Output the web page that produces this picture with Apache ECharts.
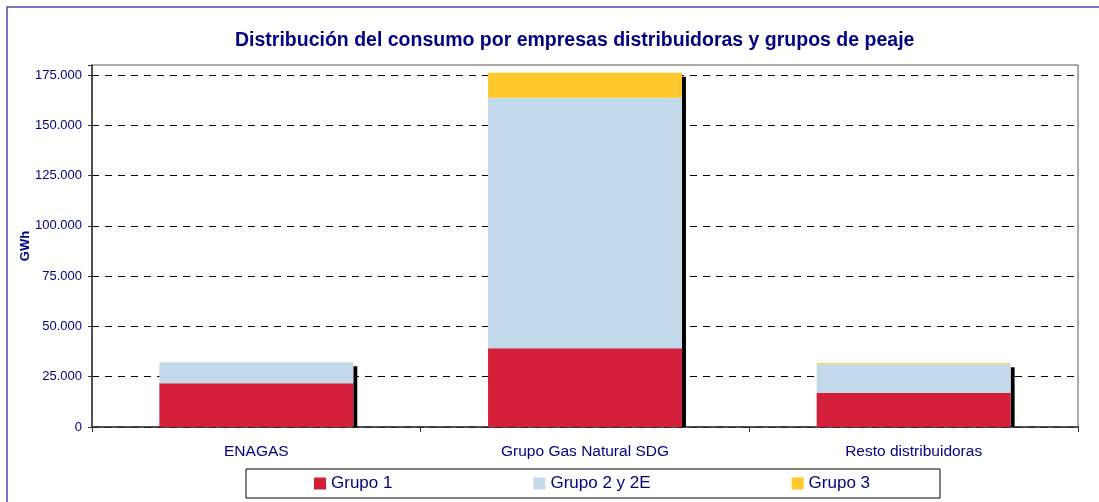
<!DOCTYPE html>
<html>
<head>
<meta charset="utf-8">
<script src="https://cdn.jsdelivr.net/npm/echarts@6/dist/echarts.min.js"></script>
<style>
  html, body { margin: 0; padding: 0; background: #fff; }
  #chart { width: 1099px; height: 502px; }
</style>
</head>
<body>
<div id="chart"></div>
<script>
const companies = ["ENAGAS", "Grupo Gas Natural SDG", "Resto distribuidoras"];
const grupo1 = [21800, 39200, 17000];
const grupo2 = [10400, 124500, 14200];
const grupo3 = [0, 12400, 500];
const yTicks = [0, 25000, 50000, 75000, 100000, 125000, 150000, 175000];

const navy = "#000080";
const colors = ["#D41F3B", "#C3D9EC", "#FFC92D"];
const barRatio = 0.59;

const totals = companies.map((c, i) => grupo1[i] + grupo2[i] + grupo3[i]);

const fmt = (v) => String(v).replace(/\B(?=(\d{3})+(?!\d))/g, ".");

const chart = echarts.init(document.getElementById("chart"));

const option = {
  animation: false,
  textStyle: { fontFamily: "Liberation Sans, Arial, sans-serif" },
  title: {
    text: "Distribución del consumo por empresas distribuidoras y grupos de peaje",
    left: 230,
    top: 26,
    textStyle: { color: navy, fontSize: 19.5, fontWeight: "bold" },
  },
  graphic: [
    {
      type: "rect",
      shape: { x: 7, y: 7, width: 1200, height: 600 },
      style: { fill: "none", stroke: "#4a4aa8", lineWidth: 1.5 },
      silent: true,
      z: -1,
    },
  ],
  grid: {
    left: 92,
    right: 21,
    top: 65,
    bottom: 75,
    show: true,
    borderColor: "#555",
    borderWidth: 1,
  },
  legend: {
    left: 246,
    top: 469,
    itemWidth: 12,
    itemHeight: 12,
    itemGap: 141,
    padding: [6, 70, 6, 68],
    borderColor: "#000",
    borderWidth: 1,
    icon: "rect",
    textStyle: { color: navy, fontSize: 17 },
    data: ["Grupo 1", "Grupo 2 y 2E", "Grupo 3"],
  },
  xAxis: {
    type: "category",
    data: companies,
    axisLine: { lineStyle: { color: "#333", width: 1.5 } },
    axisTick: { show: true, length: 5, lineStyle: { color: "#333" } },
    axisLabel: { color: navy, fontSize: 15.5, margin: 17 },
  },
  yAxis: {
    type: "value",
    min: 0,
    max: 180000,
    interval: 25000,
    name: "GWh",
    nameLocation: "middle",
    nameGap: 60,
    nameMoveOverlap: false,
    nameTextStyle: { color: navy, fontSize: 13, fontWeight: "bold" },
    axisLine: { show: true, lineStyle: { color: "#333", width: 1.5 } },
    axisTick: { show: true, length: 4, lineStyle: { color: "#333" } },
    axisLabel: {
      color: navy,
      fontSize: 13,
      margin: 10,
      formatter: (v) => (yTicks.includes(v) ? fmt(v) : ""),
    },
    splitLine: {
      show: true,
      showMaxLine: false,
      lineStyle: { color: "#000", type: [7, 6], width: 1 },
    },
  },
  series: [
    {
      type: "custom",
      name: "sombra",
      z: 1,
      silent: true,
      data: companies.map((c, i) => [i, totals[i]]),
      renderItem: (params, api) => {
        const top = api.coord([api.value(0), api.value(1)]);
        const base = api.coord([api.value(0), 0]);
        const w = api.size([1, 0])[0] * barRatio;
        const x = top[0] + w / 2;
        return {
          type: "rect",
          shape: { x: x, y: top[1] + 4, width: 4, height: base[1] - top[1] - 4 },
          style: { fill: "#000" },
        };
      },
    },
    {
      name: "Grupo 1",
      type: "bar",
      stack: "total",
      barWidth: barRatio * 100 + "%",
      z: 2,
      itemStyle: { color: colors[0] },
      data: grupo1,
    },
    {
      name: "Grupo 2 y 2E",
      type: "bar",
      stack: "total",
      z: 2,
      itemStyle: { color: colors[1] },
      data: grupo2,
    },
    {
      name: "Grupo 3",
      type: "bar",
      stack: "total",
      z: 2,
      itemStyle: { color: colors[2] },
      data: grupo3,
    },
  ],
};

chart.setOption(option);
</script>
</body>
</html>
